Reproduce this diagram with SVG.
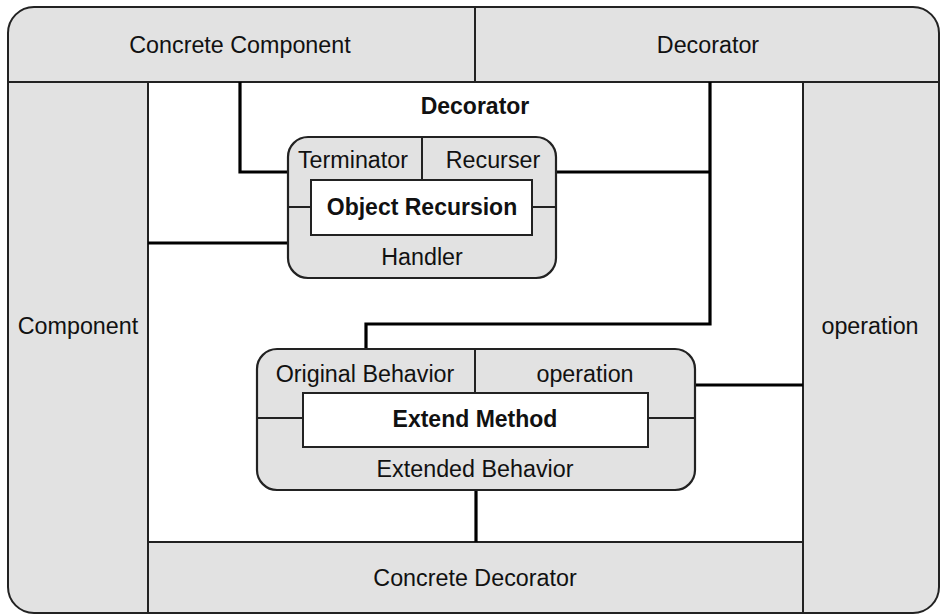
<svg xmlns="http://www.w3.org/2000/svg" width="941" height="615" viewBox="0 0 941 615">
<style>
text{font-family:"Liberation Sans",Arial,sans-serif;font-size:23.3px;fill:#111;text-anchor:middle}
.b{font-weight:bold;font-size:23px}
.frame{fill:#e2e2e2;stroke:#222;stroke-width:2}
.thin{stroke:#222;stroke-width:2;fill:none}
.node{fill:#e2e2e2;stroke:#222;stroke-width:2.2}
.inner{fill:#fff;stroke:#222;stroke-width:2}
.conn{stroke:#000;stroke-width:3.2;fill:none}
</style>
<rect width="941" height="615" fill="#fff"/>
<g id="frame">
<rect class="frame" x="8" y="7" width="931" height="606" rx="26"/>
<rect x="148" y="82" width="655" height="460" fill="#fff"/>
<path class="thin" d="M8 82H939M475 7V82M148 82V613M803 82V613M148 542H803"/>
</g>
<g id="concrete-component"><text x="240" y="53">Concrete Component</text></g>
<g id="decorator-top"><text x="708" y="53">Decorator</text></g>
<g id="component"><text x="78" y="334">Component</text></g>
<g id="operation-right"><text x="870" y="334">operation</text></g>
<g id="concrete-decorator"><text x="475" y="586">Concrete Decorator</text></g>
<g id="decorator-label"><text class="b" x="475" y="114">Decorator</text></g>
<g id="connectors">
<path class="conn" d="M240 82V172H288"/>
<path class="conn" d="M556 172H710"/>
<path class="conn" d="M710 82V324H366V349"/>
<path class="conn" d="M148 243H288"/>
<path class="conn" d="M695 385H803"/>
<path class="conn" d="M476 490V542"/>
</g>
<g id="object-recursion">
<rect class="node" x="288" y="137" width="268" height="141" rx="20"/>
<path class="thin" d="M422 137V180M288 207H311M532 207H556"/>
<rect class="inner" x="311" y="180" width="221" height="55"/>
<text x="353" y="168">Terminator</text>
<text x="493" y="168">Recurser</text>
<text class="b" x="422" y="215">Object Recursion</text>
<text x="422" y="265">Handler</text>
</g>
<g id="extend-method">
<rect class="node" x="257" y="349" width="438" height="141" rx="20"/>
<path class="thin" d="M475 349V393M257 418H303M648 418H695"/>
<rect class="inner" x="303" y="393" width="345" height="54"/>
<text x="365" y="382">Original Behavior</text>
<text x="585" y="382">operation</text>
<text class="b" x="475" y="427">Extend Method</text>
<text x="475" y="477">Extended Behavior</text>
</g>
</svg>
